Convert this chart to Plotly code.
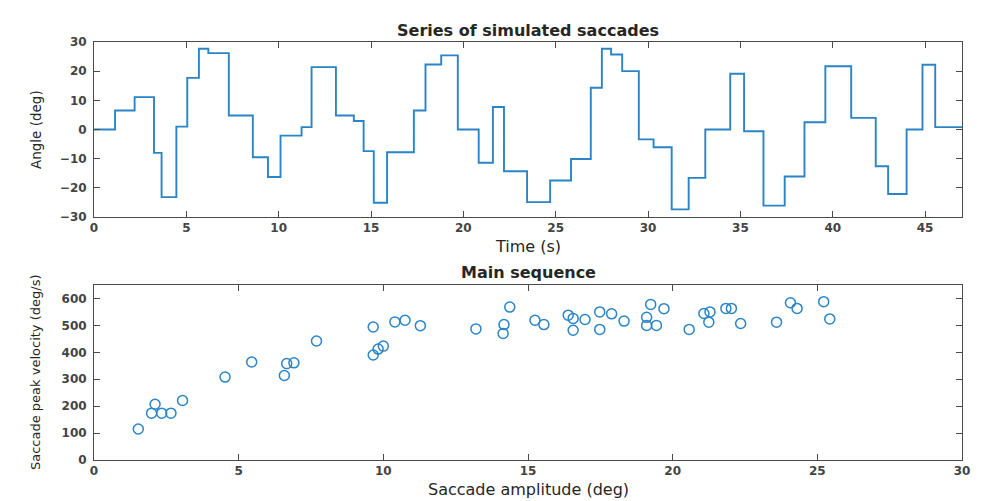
import plotly.graph_objects as go
from plotly.subplots import make_subplots

# ---- Data: top panel (step signal of simulated saccades) ----
step_times = [0, 1.14, 2.2, 3.25, 3.66, 4.46, 5.05, 5.68, 6.19, 7.3, 8.6, 9.42, 10.1,
              11.24, 11.78, 13.1, 14.07, 14.6, 15.15, 15.87, 17.32, 17.95, 18.8, 19.7,
              20.83, 21.6, 22.2, 23.45, 24.7, 25.83, 26.9, 27.5, 28.0, 28.6, 29.5, 30.3,
              31.28, 32.2, 33.1, 34.45, 35.2, 36.25, 37.4, 38.47, 39.6, 41.0, 42.33,
              43.0, 44.0, 44.86, 45.55, 47.0]
step_angles = [0, 6.5, 11.1, -8.0, -23.2, 1.0, 17.7, 27.7, 26.2, 4.8, -9.5, -16.3, -2.1,
               0.8, 21.4, 4.8, 2.9, -7.4, -25.1, -7.8, 6.5, 22.3, 25.4, 0,
               -11.4, 7.7, -14.3, -24.9, -17.5, -10.1, 14.3, 27.7, 25.7, 20.0, -3.4, -6.1,
               -27.4, -16.6, 0, 19.1, -0.6, -26.1, -16.1, 2.5, 21.7, 4.0, -12.6,
               -22.1, 0, 22.2, 0.8, 0.8]

# ---- Data: bottom panel (main sequence) ----
amplitude = [1.53, 2.11, 1.99, 2.34, 2.66, 3.06, 4.53, 5.45, 6.58, 6.66, 6.91, 7.69,
             9.65, 9.65, 9.82, 10.0, 10.4, 10.75, 11.28, 13.2, 14.17, 14.14, 14.37,
             15.24, 15.55, 16.39, 16.56, 16.56, 16.97, 17.48, 17.48, 17.89, 18.32,
             19.1, 19.1, 19.44, 19.24, 19.70, 20.57, 21.08, 21.29, 21.25, 21.84,
             22.03, 22.35, 23.59, 24.07, 24.3, 25.22, 25.43]
peak_velocity = [115, 207, 174, 174, 174, 221, 308, 364, 314, 358, 361, 442,
                 494, 390, 412, 423, 513, 519, 499, 487, 503, 470, 568,
                 519, 503, 538, 526, 482, 522, 550, 485, 543, 516,
                 530, 500, 500, 578, 562, 485, 544, 550, 512, 563,
                 563, 507, 512, 584, 563, 588, 524]

top_xticks = [0, 5, 10, 15, 20, 25, 30, 35, 40, 45]
top_yticks = [-30, -20, -10, 0, 10, 20, 30]
bot_xticks = [0, 5, 10, 15, 20, 25, 30]
bot_yticks = [0, 100, 200, 300, 400, 500, 600]

BLUE = "#2a84c6"
AX = "#4a4a4a"
TXT = "#262626"
FONT = "DejaVu Sans"

W, H = 996, 501
def px_x(p):
    return p / W
def px_y(p):
    return 1 - p / H

fig = make_subplots(rows=2, cols=1)

fig.add_trace(go.Scatter(x=step_times, y=step_angles, mode="lines",
                         line=dict(color=BLUE, width=1.9, shape="hv"),
                         showlegend=False), row=1, col=1)
fig.add_trace(go.Scatter(x=amplitude, y=peak_velocity, mode="markers",
                         marker=dict(symbol="circle-open", size=10, color=BLUE,
                                     line=dict(width=1.5, color=BLUE)),
                         showlegend=False), row=2, col=1)

axis_common = dict(showline=True, linecolor=AX, linewidth=1, mirror="ticks",
                   ticks="inside", ticklen=6, tickcolor=AX, tickwidth=1,
                   showgrid=False, zeroline=False, automargin=False,
                   tickfont=dict(family=FONT, size=12, color="#444444", weight="bold"))

x_dom = [px_x(94), px_x(962)]
fig.update_layout(
    xaxis=dict(domain=x_dom, range=[0, 47], tickvals=top_xticks, **axis_common),
    yaxis=dict(domain=[px_y(217), px_y(42)], range=[-30, 30], tickvals=top_yticks,
               ticklabelstandoff=4, **axis_common),
    xaxis2=dict(domain=x_dom, range=[0, 30], tickvals=bot_xticks, **axis_common),
    yaxis2=dict(domain=[px_y(460), px_y(285)], range=[0, 650], tickvals=bot_yticks,
                ticklabelstandoff=4, **axis_common),
)

cx = (94 + 962) / 2 / W
annots = [
    dict(text="<b>Series of simulated saccades</b>", x=cx, y=px_y(30), size=16),
    dict(text="<b>Main sequence</b>", x=cx, y=px_y(272), size=16),
    dict(text="Time (s)", x=cx, y=px_y(246), size=16),
    dict(text="Saccade amplitude (deg)", x=cx, y=px_y(489), size=16),
    dict(text="Angle (deg)", x=px_x(36), y=px_y(130), size=13.5, angle=-90),
    dict(text="Saccade peak velocity (deg/s)", x=px_x(35), y=px_y(373), size=13, angle=-90),
]
for a in annots:
    fig.add_annotation(text=a["text"], x=a["x"], y=a["y"], xref="paper", yref="paper",
                       xanchor="center", yanchor="middle", showarrow=False,
                       textangle=a.get("angle", 0),
                       font=dict(family=FONT, size=a["size"], color=TXT))

fig.update_layout(width=W, height=H, margin=dict(l=0, r=0, t=0, b=0),
                  paper_bgcolor="white", plot_bgcolor="white", showlegend=False)

fig.write_html("out.html", config={"displayModeBar": False},
               post_script="document.body.style.margin='0';document.body.style.overflow='hidden';")
